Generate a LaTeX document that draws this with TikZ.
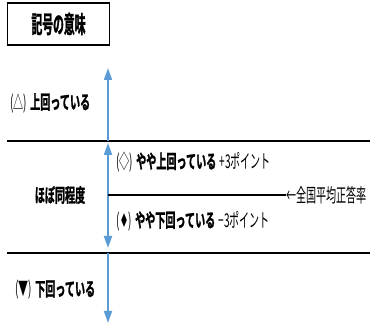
\documentclass[tikz,border=0pt]{standalone}
\usepackage{fontspec}
\usetikzlibrary{arrows.meta}
\newfontfamily\jp[FakeStretch=0.53]{Noto Sans CJK JP}
\newfontfamily\jpb[FakeStretch=0.53,FakeBold=1.2]{Noto Sans CJK JP Bold}
\newfontfamily\jpt[FakeStretch=0.45,FakeBold=1.2]{Noto Sans CJK JP Bold}
\newfontfamily\symf[FakeStretch=0.53]{DejaVu Sans}
\definecolor{arrowblue}{HTML}{5B9BD5}
\begin{document}
\begin{tikzpicture}[x=1pt,y=-1pt,
  lbl/.style={inner sep=0pt, font=\jp\fontsize{19}{21}\selectfont},
  titlebox/.style={draw, line width=1.5pt, minimum width=102pt, minimum height=42pt, inner sep=0pt, font=\jpt\fontsize{24}{26}\selectfont},
  sepline/.style={line width=2pt},
  blue arrow/.style={draw=arrowblue, line width=1.8pt, -{Triangle[length=12pt,width=8pt]}, arrowblue},
  blue darrow/.style={draw=arrowblue, line width=1.8pt, {Triangle[length=12pt,width=8pt]}-{Triangle[length=12pt,width=8pt]}, arrowblue},
  avgline/.style={line width=1.5pt}]
\useasboundingbox (0,0) rectangle (376,326);
\node[titlebox] (title) at (58.5,24) {記号の意味};
\coordinate (l1a) at (7,141);
\coordinate (l1b) at (370,141);
\coordinate (l2a) at (7,253);
\coordinate (l2b) at (370,253);
\draw[sepline] (l1a) -- (l1b);
\draw[sepline] (l2a) -- (l2b);
\coordinate (upS) at (108,141);
\coordinate (upE) at (108,68);
\draw[blue arrow] (upS) -- (upE);
\coordinate (midT) at (108,143);
\coordinate (midB) at (108,248);
\draw[blue darrow] (midT) -- (midB);
\coordinate (dnS) at (108,253);
\coordinate (dnE) at (108,323);
\draw[blue arrow] (dnS) -- (dnE);
\coordinate (avgS) at (108,195);
\node[lbl, anchor=west] (avg) at (286,195) {←全国平均正答率};
\draw[avgline] (avgS) -- (avg.west);
\node[lbl, anchor=west] (above) at (10,103) {(△)\,{\jpb 上回っている}};
\node[lbl] (same) at (60,195) {\jpb ほぼ同程度};
\node[lbl, anchor=west] (sabove) at (116,162) {(◇)\,{\jpb やや上回っている}\,+3ポイント};
\node[lbl, anchor=west] (sbelow) at (116,221) {({\symf ♦})\,{\jpb やや下回っている}\,−3ポイント};
\node[lbl, anchor=west] (below) at (15,290) {(▼)\,{\jpb 下回っている}};
\end{tikzpicture}
\end{document}
